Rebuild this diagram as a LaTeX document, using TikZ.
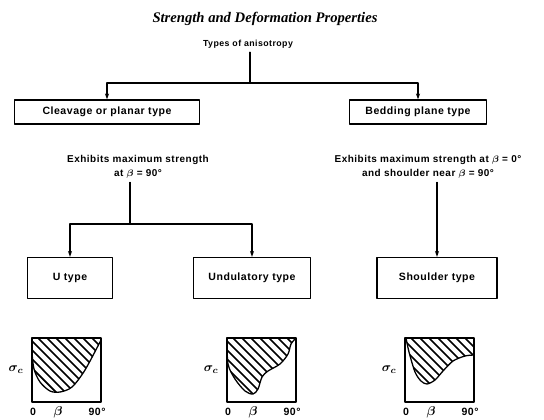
\documentclass[tikz,border=0pt]{standalone}
\usepackage{fontspec}
\usepackage{bm}
\usetikzlibrary{arrows.meta}
\newfontfamily\labelfont[LetterSpace=5.0]{Liberation Sans}
\newfontfamily\titlefont{Liberation Serif}

\begin{document}
\begin{tikzpicture}[x=0.03cm, y=-0.03cm, line join=round, line cap=round,
  >={Stealth[length=5pt,width=3.5pt]},
  font=\labelfont\bfseries\fontsize{8.5}{11.5}\selectfont,
  box/.style={draw, line width=1.1pt, inner sep=0pt, minimum height=24*0.03cm,
    font=\labelfont\bfseries\fontsize{9}{11}\selectfont},
  tallbox/.style={box, minimum height=41*0.03cm},
  link/.style={line width=1.1pt},
  frame/.style={line width=1.1pt},
  hatch/.style={line width=1.5pt, line cap=butt}]
	\useasboundingbox (0,0) rectangle (544,419);
	% headings
	\node (title) at (265,19) {\titlefont\bfseries\itshape\fontsize{12.5}{14}\selectfont Strength and Deformation Properties};
	\node[font=\labelfont\bfseries\fontsize{7.5}{9}\selectfont] (types) at (248,44) {Types of anisotropy};
	\coordinate (fork) at (250,83);
	% first level
	\node[box, minimum width=185*0.03cm] (cleav) at (107,112) {Cleavage or planar type};
	\node[box, minimum width=137*0.03cm] (bedd) at (418,112) {Bedding plane type};
	\node[align=center] (maxL) at (138,167) {Exhibits maximum strength\\at $\bm\beta$ = 90°};
	\node[align=center] (maxR) at (428,167) {Exhibits maximum strength at $\bm\beta$ = 0°\\and shoulder near $\bm\beta$ = 90°};
	\coordinate (forkL) at (130,224);
	% second level
	\node[tallbox, minimum width=85*0.03cm] (utype) at (70,278) {U type};
	\node[tallbox, minimum width=117*0.03cm] (undul) at (252,278) {Undulatory type};
	\node[tallbox, minimum width=120*0.03cm] (shoul) at (437,278) {Shoulder type};
	% connectors
	\draw[link] (types.south -| fork) -- (fork);
	\draw[link,->] (fork) -| (cleav.north);
	\draw[link,->] (fork) -| (bedd.north);
	\draw[link] (maxL.south -| forkL) -- (forkL);
	\draw[link,->] (forkL) -| (utype.north);
	\draw[link,->] (forkL) -| (undul.north);
	\draw[link,->] (maxR.south -| shoul.north) -- (shoul.north);
	% strength curves
	\foreach \x/\n in {32/a,227/b,405/c} {
		\draw[frame] (\x,338) rectangle ++(69,64);
		\node[font=\fontsize{11}{12}\selectfont] (sig\n) at (\x-16,370) {$\bm\sigma_{\bm c}$};
		\node[font=\labelfont\bfseries\fontsize{9}{11}\selectfont] (zero\n) at (\x+1,412) {0};
		\node[font=\fontsize{11}{12}\selectfont] (beta\n) at (\x+26,412) {$\bm\beta$};
		\node[font=\labelfont\bfseries\fontsize{9}{11}\selectfont] (deg\n) at (\x+65,412) {90°};
	}
	\begin{scope}[shift={(32,402)}, y=0.03cm]
		\def\curve{(0,64) (0,50) (2,33) (8,20) (18,11) (28,10) (40,15) (53,32) (69,62)}
		\begin{scope}
			\clip plot[smooth] coordinates {\curve} -- (69,64) -- cycle;
			\foreach \i in {-72,-63,...,72}
			\draw[hatch] (\i,70) -- ++(75,-75);
		\end{scope}
		\draw[frame] plot[smooth] coordinates {\curve};
	\end{scope}
	\begin{scope}[shift={(227,402)}, y=0.03cm]
		\def\curve{(0,64) (1,38) (8,23) (18,11) (26,8) (31,13) (35,25) (41,31) (53,38) (61,48) (64,58) (69,64)}
		\begin{scope}
			\clip plot[smooth] coordinates {\curve} -- cycle;
			\foreach \i in {-72,-63,...,72}
			\draw[hatch] (\i,70) -- ++(75,-75);
		\end{scope}
		\draw[frame] plot[smooth] coordinates {\curve};
	\end{scope}
	\begin{scope}[shift={(405,402)}, y=0.03cm]
		\def\curve{(1,64) (4,50) (10,30) (16,21) (22,18) (30,22) (38,31) (48,41) (60,46) (69,47)}
		\begin{scope}
			\clip plot[smooth] coordinates {\curve} -- (69,64) -- cycle;
			\foreach \i in {-72,-63,...,72}
			\draw[hatch] (\i,70) -- ++(75,-75);
		\end{scope}
		\draw[frame] plot[smooth] coordinates {\curve};
	\end{scope}
\end{tikzpicture}
\end{document}
